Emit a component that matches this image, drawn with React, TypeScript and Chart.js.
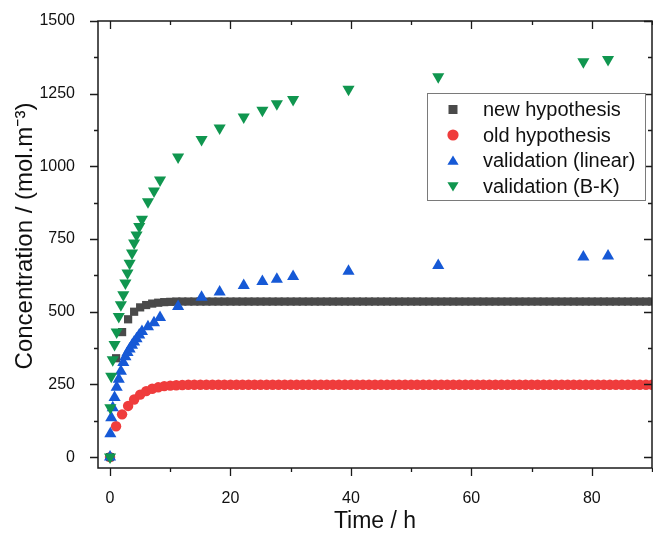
import React, { useEffect, useRef } from 'react';
import { Chart, registerables } from 'chart.js';

Chart.register(...registerables);

const FONT = "'Liberation Sans', Arial, 'Noto Sans', sans-serif";

// ---- data ----
const simTimes = [
  0, 1, 2, 3, 4, 5, 6, 7, 8, 9,
  10, 11, 12, 13, 14, 15, 16, 17, 18, 19,
  20, 21, 22, 23, 24, 25, 26, 27, 28, 29,
  30, 31, 32, 33, 34, 35, 36, 37, 38, 39,
  40, 41, 42, 43, 44, 45, 46, 47, 48, 49,
  50, 51, 52, 53, 54, 55, 56, 57, 58, 59,
  60, 61, 62, 63, 64, 65, 66, 67, 68, 69,
  70, 71, 72, 73, 74, 75, 76, 77, 78, 79,
  80, 81, 82, 83, 84, 85, 86, 87, 88, 89,
  90,
];

const newHypothesis = [
  0, 340, 430, 474, 500, 515, 523, 528, 531, 533,
  534, 535, 535, 535, 535, 535, 535, 535, 535, 535,
  535, 535, 535, 535, 535, 535, 535, 535, 535, 535,
  535, 535, 535, 535, 535, 535, 535, 535, 535, 535,
  535, 535, 535, 535, 535, 535, 535, 535, 535, 535,
  535, 535, 535, 535, 535, 535, 535, 535, 535, 535,
  535, 535, 535, 535, 535, 535, 535, 535, 535, 535,
  535, 535, 535, 535, 535, 535, 535, 535, 535, 535,
  535, 535, 535, 535, 535, 535, 535, 535, 535, 535,
  535,
];

const oldHypothesis = [
  0, 106, 147, 176, 198, 215, 227, 235, 240, 244,
  246, 247, 248, 249, 249, 249, 249, 249, 249, 249,
  249, 249, 249, 249, 249, 249, 249, 249, 249, 249,
  249, 249, 249, 249, 249, 249, 249, 249, 249, 249,
  249, 249, 249, 249, 249, 249, 249, 249, 249, 249,
  249, 249, 249, 249, 249, 249, 249, 249, 249, 249,
  249, 249, 249, 249, 249, 249, 249, 249, 249, 249,
  249, 249, 249, 249, 249, 249, 249, 249, 249, 249,
  249, 249, 249, 249, 249, 249, 249, 249, 249, 249,
  249,
];

const valTimes = [
  0, 0.05, 0.2, 0.45, 0.75, 1.1, 1.45, 1.8, 2.2, 2.55,
  2.9, 3.25, 3.65, 4.0, 4.4, 4.85, 5.3, 6.3, 7.3, 8.3,
  11.3, 15.2, 18.2, 22.2, 25.3, 27.7, 30.4, 39.6, 54.5, 78.6,
  82.7,
];

const validationLinear = [
  0, 80, 135, 170, 205, 240, 268, 295, 325, 345,
  360, 372, 385, 396, 407, 420, 432, 448, 462, 480,
  518, 550, 568, 590, 604, 612, 621, 639, 659, 688,
  692,
];

const validationBK = [
  0, 170, 278, 335, 387, 430, 484, 524, 558, 599,
  633, 667, 702, 736, 764, 793, 818, 878, 915, 953,
  1032, 1092, 1132, 1170, 1193, 1215, 1230, 1265, 1308, 1360,
  1368,
];

const seriesLabels = ['new hypothesis', 'old hypothesis', 'validation (linear)', 'validation (B-K)'];
const xTickValues = [0, 20, 40, 60, 80];
const xMinorTickValues = [10, 30, 50, 70, 90];
const yTickValues = [0, 250, 500, 750, 1000, 1250, 1500];
const yMinorTickValues = [125, 375, 625, 875, 1125, 1375];
const xTitle = 'Time / h';
const yTitle = 'Concentration / (mol.m⁻³)';

const COLORS = ['#4a4a4a', '#ef3c3c', '#1659d6', '#10964f'];
const MARKERS = ['rect', 'circle', 'up', 'down'];

function toPoints(xs: number[], ys: number[]) {
  return xs.map((x, i) => ({ x, y: ys[i] }));
}

function drawLegendMarker(ctx: CanvasRenderingContext2D, kind: string, x: number, y: number, color: string) {
  ctx.fillStyle = color;
  ctx.beginPath();
  if (kind === 'rect') {
    ctx.rect(x - 4.5, y - 4.5, 9, 9);
  } else if (kind === 'circle') {
    ctx.arc(x, y, 5.6, 0, Math.PI * 2);
  } else if (kind === 'up') {
    ctx.moveTo(x, y - 5);
    ctx.lineTo(x + 5.6, y + 4.3);
    ctx.lineTo(x - 5.6, y + 4.3);
  } else {
    ctx.moveTo(x, y + 5);
    ctx.lineTo(x + 5.6, y - 4.3);
    ctx.lineTo(x - 5.6, y - 4.3);
  }
  ctx.closePath();
  ctx.fill();
}

const framePlugin = {
  id: 'originFrame',
  afterDatasetsDraw(chart: any) {
    const { ctx, chartArea: a, scales } = chart;
    const xs = scales.x;
    const ys = scales.y;
    ctx.save();
    ctx.strokeStyle = '#1a1a1a';
    ctx.lineWidth = 1.5;
    ctx.strokeRect(a.left, a.top, a.right - a.left, a.bottom - a.top);
    ctx.lineWidth = 1.3;
    ctx.beginPath();
    const xt = (vals: number[], len: number) => {
      for (const v of vals) {
        const p = Math.round(xs.getPixelForValue(v)) + 0.5;
        ctx.moveTo(p, a.bottom);
        ctx.lineTo(p, a.bottom + len);
        ctx.moveTo(p, a.top);
        ctx.lineTo(p, a.top + len);
      }
    };
    const yt = (vals: number[], len: number) => {
      for (const v of vals) {
        const p = Math.round(ys.getPixelForValue(v)) + 0.5;
        ctx.moveTo(a.left - len, p);
        ctx.lineTo(a.left, p);
        ctx.moveTo(a.right - len, p);
        ctx.lineTo(a.right, p);
      }
    };
    xt(xTickValues, 8);
    xt(xMinorTickValues, 4);
    yt(yTickValues, 8);
    yt(yMinorTickValues, 4);
    ctx.stroke();
    ctx.restore();
  },
  afterDraw(chart: any) {
    const { ctx, chartArea: a } = chart;
    ctx.save();
    // axis titles
    ctx.fillStyle = '#111';
    ctx.textAlign = 'center';
    ctx.textBaseline = 'middle';
    ctx.font = `23px ${FONT}`;
    ctx.fillText(xTitle, (a.left + a.right) / 2, 522);
    ctx.save();
    ctx.font = `24px ${FONT}`;
    ctx.translate(25, 236);
    ctx.rotate(-Math.PI / 2);
    ctx.fillText(yTitle, 0, 0);
    ctx.restore();

    // legend
    const bx = 427.5, by = 93.5, bw = 218, bh = 107;
    ctx.fillStyle = '#fff';
    ctx.fillRect(bx, by, bw, bh);
    ctx.strokeStyle = '#7a7a7a';
    ctx.lineWidth = 1;
    ctx.strokeRect(bx, by, bw, bh);
    const rows = [109.5, 135, 160.5, 186.5];
    ctx.font = `20px ${FONT}`;
    ctx.textAlign = 'left';
    ctx.textBaseline = 'middle';
    seriesLabels.forEach((label, i) => {
      drawLegendMarker(ctx, MARKERS[i], 453, rows[i], COLORS[i]);
      ctx.fillStyle = '#111';
      ctx.fillText(label, 483, rows[i] + 1);
    });
    ctx.restore();
  },
};

function zeroPadding(scale: any) {
  scale.paddingTop = 0;
  scale.paddingBottom = 0;
  scale.paddingLeft = 0;
  scale.paddingRight = 0;
}

export default function App() {
  const ref = useRef<HTMLCanvasElement>(null);

  useEffect(() => {
    if (!ref.current) return;
    const chart = new Chart(ref.current, {
      type: 'scatter',
      data: {
        datasets: [
          {
            label: seriesLabels[0],
            data: toPoints(simTimes, newHypothesis),
            pointStyle: 'rect',
            pointRadius: 5.8,
            backgroundColor: COLORS[0],
            borderColor: COLORS[0],
            borderWidth: 0,
            order: 3,
          },
          {
            label: seriesLabels[1],
            data: toPoints(simTimes, oldHypothesis),
            pointStyle: 'circle',
            pointRadius: 5.2,
            backgroundColor: COLORS[1],
            borderColor: COLORS[1],
            borderWidth: 0,
            order: 4,
          },
          {
            label: seriesLabels[2],
            data: toPoints(valTimes, validationLinear),
            pointStyle: 'triangle',
            pointRadius: 7,
            backgroundColor: COLORS[2],
            borderColor: COLORS[2],
            borderWidth: 0,
            order: 2,
          },
          {
            label: seriesLabels[3],
            data: toPoints(valTimes, validationBK),
            pointStyle: 'triangle',
            pointRotation: 180,
            pointRadius: 7,
            backgroundColor: COLORS[3],
            borderColor: COLORS[3],
            borderWidth: 0,
            order: 1,
          },
        ],
      },
      options: {
        responsive: false,
        animation: false,
        events: [],
        layout: { autoPadding: false, padding: { top: 21, right: 1, left: 0, bottom: 0 } },
        plugins: {
          legend: { display: false },
          tooltip: { enabled: false },
        },
        scales: {
          x: {
            type: 'linear',
            min: -2,
            max: 90,
            grid: { display: false, drawTicks: false },
            border: { display: false },
            ticks: {
              padding: 21,
              color: '#111',
              font: { family: FONT, size: 16 },
              callback: (v: any) => String(v),
            },
            afterBuildTicks: (scale: any) => {
              scale.ticks = xTickValues.map((value) => ({ value }));
            },
            afterFit: (scale: any) => {
              scale.height = 68;
              zeroPadding(scale);
            },
          },
          y: {
            type: 'linear',
            min: -37.5,
            max: 1500,
            grid: { display: false, drawTicks: false },
            border: { display: false },
            ticks: {
              padding: 23,
              color: '#111',
              font: { family: FONT, size: 16 },
              callback: (v: any) => String(v),
            },
            afterBuildTicks: (scale: any) => {
              scale.ticks = yTickValues.map((value) => ({ value }));
            },
            afterFit: (scale: any) => {
              scale.width = 98;
              zeroPadding(scale);
            },
          },
        },
      },
      plugins: [framePlugin],
    } as any);
    return () => chart.destroy();
  }, []);

  return (
    <div style={{ position: 'absolute', left: 0, top: 0, width: 653, height: 536, background: '#fff' }}>
      <canvas ref={ref} width={653} height={536} style={{ display: 'block', width: 653, height: 536 }} />
    </div>
  );
}
